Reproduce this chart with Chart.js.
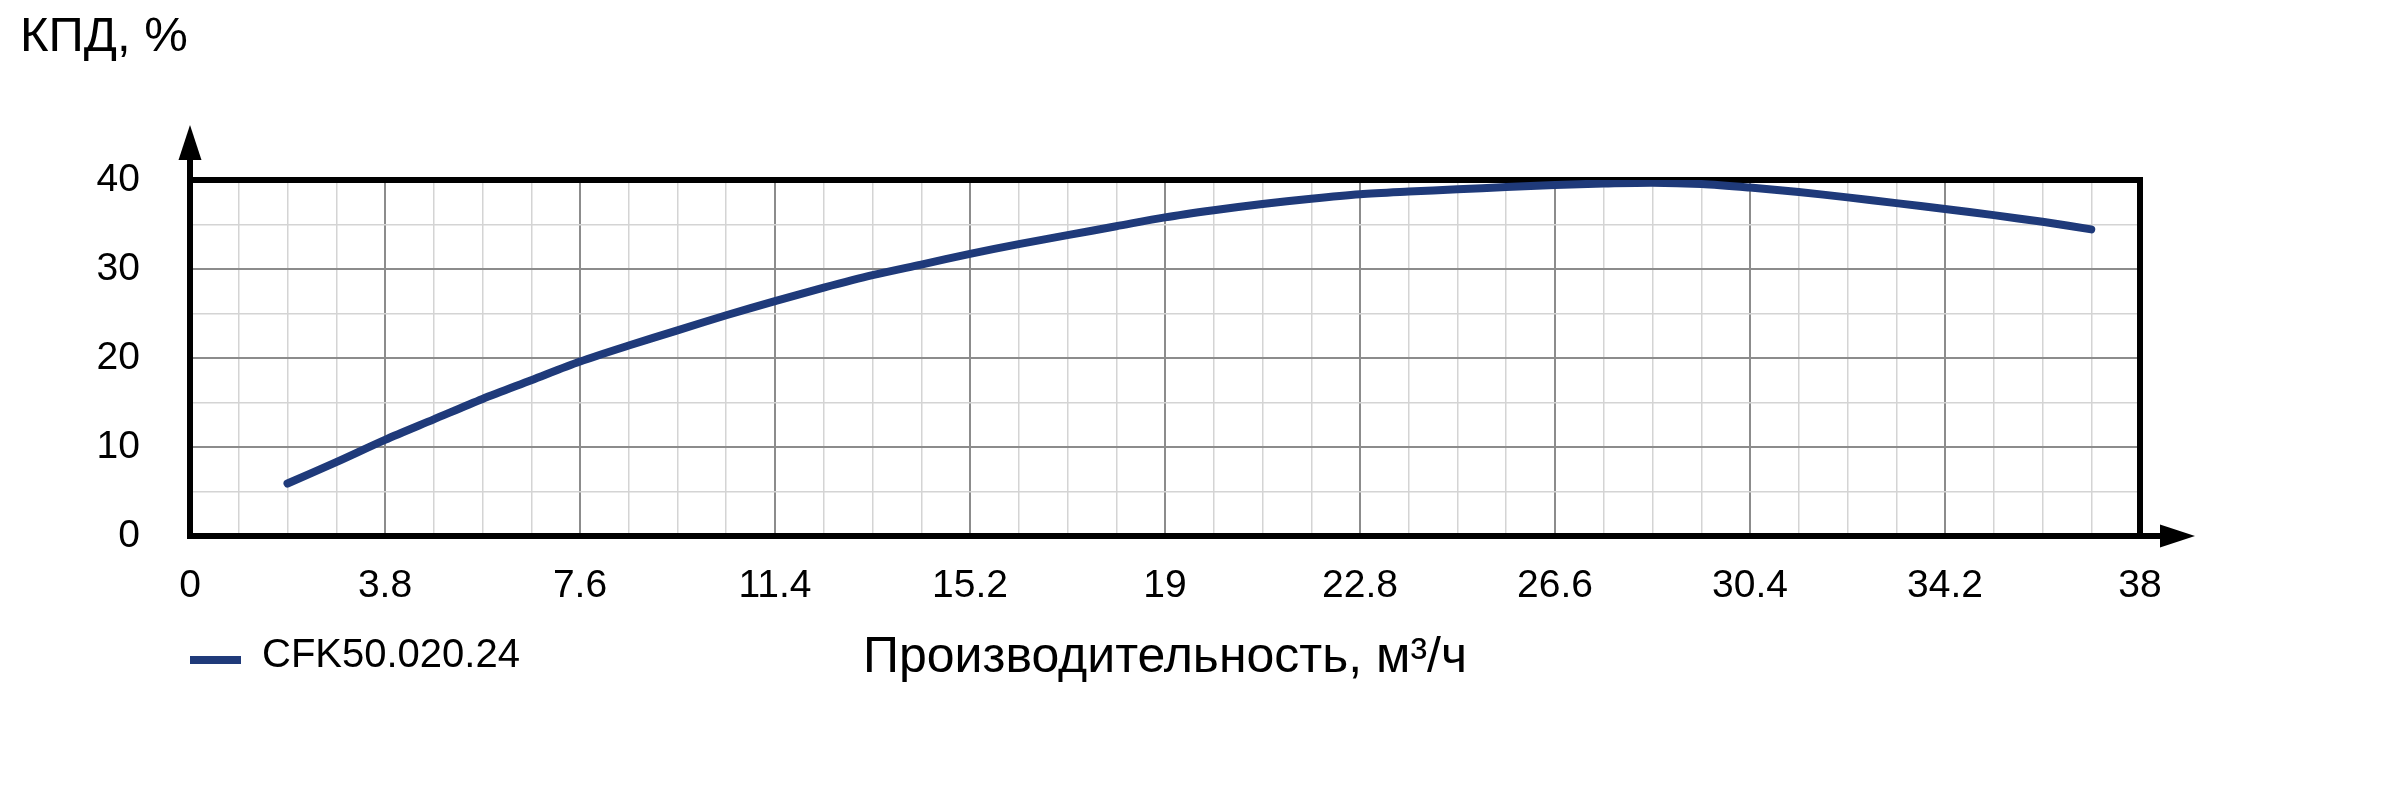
<!DOCTYPE html>
<html lang="ru">
<head>
<meta charset="utf-8">
<title>КПД</title>
<script src="https://cdn.jsdelivr.net/npm/chart.js"></script>
<style>
  html, body { margin: 0; padding: 0; background: #fff; }
  canvas { display: block; }
</style>
</head>
<body>
<canvas id="kpdChart" width="2400" height="800"></canvas>
<script>
// Données (débit en m³/h, rendement en %)
const seriesName = 'CFK50.020.24'
const flowValues = [1.9, 2.85, 3.8, 4.75, 5.7, 6.65, 7.6, 8.55, 9.5, 10.45, 11.4, 12.35, 13.3,
    14.25, 15.2, 16.15, 17.1, 18.05, 19, 19.95, 20.9, 21.85, 22.8, 23.75, 24.7, 25.65, 26.6,
    27.55, 28.5, 29.45, 30.4, 31.35, 32.3, 33.25, 34.2, 35.15, 36.1, 37.05]
const efficiencyValues = [5.9, 8.3, 10.8, 13.1, 15.4, 17.5, 19.6, 21.4, 23.1, 24.8, 26.4, 27.9, 29.3,
    30.5, 31.7, 32.8, 33.8, 34.8, 35.8, 36.6, 37.3, 37.9, 38.4, 38.7, 38.95, 39.2, 39.45,
    39.6, 39.7, 39.55, 39.15, 38.65, 38.05, 37.4, 36.75, 36.05, 35.3, 34.45]

// Graduations des axes
const xTickLabels = ['0', '3.8', '7.6', '11.4', '15.2', '19', '22.8', '26.6', '30.4', '34.2', '38']
const yTickLabels = ['0', '10', '20', '30', '40']

const fontFamily = '"Liberation Sans", Arial, sans-serif'
const lineColor = '#1f3a7a'
const majorGrid = '#8c8c8c'
const minorGrid = '#d4d4d4'

// Cadre noir + flèches des axes
const framePlugin = {
    id: 'frame',
    beforeDatasetsDraw(chart) {
        const {ctx, chartArea: a} = chart
        ctx.save()
        ctx.strokeStyle = '#000'
        ctx.fillStyle = '#000'
        ctx.lineWidth = 6
        ctx.strokeRect(a.left, a.top, a.right - a.left, a.bottom - a.top)
        // prolongement des axes
        ctx.beginPath()
        ctx.moveTo(a.left, a.top)
        ctx.lineTo(a.left, a.top - 22)
        ctx.moveTo(a.right, a.bottom)
        ctx.lineTo(a.right + 22, a.bottom)
        ctx.stroke()
        // pointe verticale
        ctx.beginPath()
        ctx.moveTo(a.left, a.top - 55)
        ctx.lineTo(a.left - 11.5, a.top - 20)
        ctx.lineTo(a.left + 11.5, a.top - 20)
        ctx.closePath()
        ctx.fill()
        // pointe horizontale
        ctx.beginPath()
        ctx.moveTo(a.right + 55, a.bottom)
        ctx.lineTo(a.right + 20, a.bottom - 11.5)
        ctx.lineTo(a.right + 20, a.bottom + 11.5)
        ctx.closePath()
        ctx.fill()
        ctx.restore()
    }
}

// Légende dessinée à gauche, sur la même ligne que le titre de l'axe X
const legendPlugin = {
    id: 'sideLegend',
    afterDraw(chart) {
        const {ctx, chartArea: a} = chart
        const ds = chart.data.datasets[0]
        const y = 656
        ctx.save()
        ctx.strokeStyle = ds.borderColor
        ctx.lineWidth = 8
        ctx.beginPath()
        ctx.moveTo(a.left, y + 4)
        ctx.lineTo(a.left + 51, y + 4)
        ctx.stroke()
        ctx.fillStyle = '#000'
        ctx.font = '40px ' + fontFamily
        ctx.textBaseline = 'middle'
        ctx.textAlign = 'left'
        ctx.fillText(ds.label, a.left + 72, y)
        ctx.restore()
    }
}

const ctx = document.getElementById('kpdChart').getContext('2d')

const config = {
    type: 'line',
    data: {
        datasets: [{
            label: seriesName,
            data: flowValues.map((q, i) => ({x: q, y: efficiencyValues[i]})),
            borderColor: lineColor,
            borderWidth: 8,
            borderCapStyle: 'round',
            pointRadius: 0,
            tension: 0.3,
            fill: false
        }]
    },
    plugins: [framePlugin, legendPlugin],
    options: {
        responsive: false,
        devicePixelRatio: 1,
        animation: false,
        layout: {
            padding: {left: 20, top: 0, right: 260, bottom: 112}
        },
        plugins: {
            legend: {display: false},
            tooltip: {enabled: false},
            title: {
                display: true,
                text: 'КПД, %',
                align: 'start',
                color: '#000',
                font: {family: fontFamily, size: 49, weight: 'normal'},
                padding: {top: 8, bottom: 113.2}
            }
        },
        scales: {
            x: {
                type: 'linear',
                min: 0,
                max: 38,
                afterFit: (scale) => { scale.height = 152 },
                border: {display: false},
                grid: {
                    drawTicks: false,
                    color: (c) => c.index % 4 === 0 ? majorGrid : minorGrid,
                    lineWidth: (c) => c.index % 4 === 0 ? 2 : 1.5
                },
                ticks: {
                    stepSize: 0.95,
                    autoSkip: false,
                    maxRotation: 0,
                    padding: 27,
                    color: '#000',
                    font: {family: fontFamily, size: 39},
                    callback: (v, i) => i % 4 === 0 ? xTickLabels[i / 4] : ''
                },
                title: {
                    display: true,
                    text: 'Производительность, м³/ч',
                    color: '#000',
                    font: {family: fontFamily, size: 50},
                    padding: {top: 0, bottom: 0}
                }
            },
            y: {
                type: 'linear',
                min: 0,
                max: 40,
                afterFit: (scale) => { scale.width = 170 },
                border: {display: false},
                grid: {
                    drawTicks: false,
                    color: (c) => c.index % 2 === 0 ? majorGrid : minorGrid,
                    lineWidth: (c) => c.index % 2 === 0 ? 2 : 1.5
                },
                ticks: {
                    stepSize: 5,
                    autoSkip: false,
                    padding: 50,
                    color: '#000',
                    font: {family: fontFamily, size: 39},
                    callback: (v, i) => i % 2 === 0 ? yTickLabels[i / 2] : ''
                }
            }
        }
    }
}

const kpdChart = new Chart(ctx, config)
</script>
</body>
</html>
